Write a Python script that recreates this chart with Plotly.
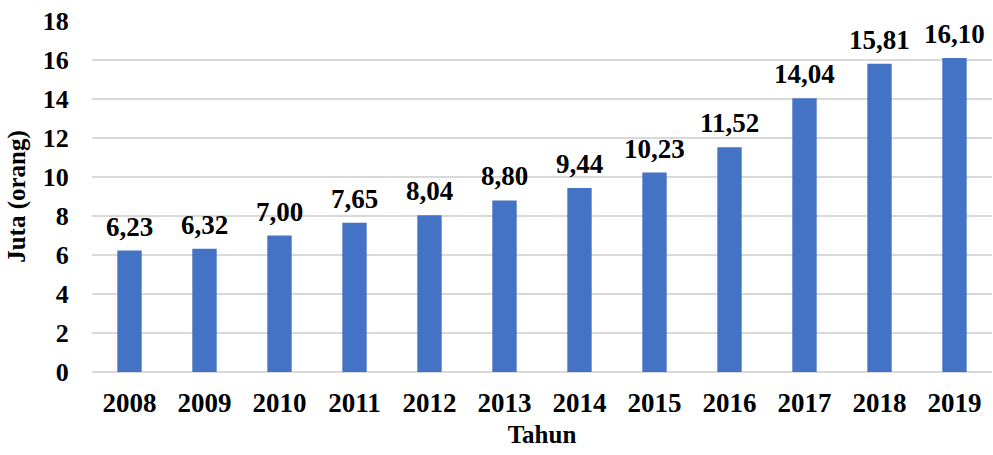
import plotly.graph_objects as go

years = ["2008", "2009", "2010", "2011", "2012", "2013", "2014", "2015", "2016", "2017", "2018", "2019"]
values = [6.23, 6.32, 7.00, 7.65, 8.04, 8.80, 9.44, 10.23, 11.52, 14.04, 15.81, 16.10]
labels = [f"{v:.2f}".replace(".", ",") for v in values]

FONT = "Liberation Serif, Times New Roman, serif"

fig = go.Figure(
    go.Bar(
        x=years,
        y=values,
        cliponaxis=False,
        marker=dict(color="#4472C4", line=dict(width=0)),
        hoverinfo="x+y",
    )
)

# category axis: annotations are positioned by category index
for idx, (yv, lab) in enumerate(zip(values, labels)):
    fig.add_annotation(
        x=idx, y=yv, text=lab, showarrow=False,
        xanchor="center", yanchor="bottom", yshift=7,
        font=dict(family=FONT, size=27, color="black", weight="bold"),
    )

fig.update_layout(
    width=993,
    height=455,
    margin=dict(l=92, r=1, t=21, b=83, autoexpand=False),
    plot_bgcolor="white",
    paper_bgcolor="white",
    bargap=0.675,
    showlegend=False,
    font=dict(family=FONT, size=26, color="black", weight="bold"),
)

fig.update_xaxes(
    type="category",
    title=dict(text="Tahun", font=dict(family=FONT, size=25, color="black", weight="bold"), standoff=8),
    tickfont=dict(family=FONT, size=27, color="black", weight="bold"),
    ticks="outside",
    ticklen=7,
    tickcolor="rgba(0,0,0,0)",
    showline=False,
    showgrid=False,
    automargin=False,
)

fig.update_yaxes(
    title=dict(text="Juta (orang)", font=dict(family=FONT, size=25, color="black", weight="bold"), standoff=10),
    range=[0, 18],
    dtick=2,
    tickfont=dict(family=FONT, size=26, color="black", weight="bold"),
    ticks="outside",
    ticklen=17,
    tickcolor="rgba(0,0,0,0)",
    showgrid=True,
    gridcolor="#d9d9d9",
    gridwidth=1.5,
    zeroline=True,
    zerolinecolor="#d9d9d9",
    zerolinewidth=1.5,
    showline=False,
    automargin=False,
)

fig.write_html(
    "out.html",
    config={"displayModeBar": False},
    post_script="document.body.style.margin='0';",
)
